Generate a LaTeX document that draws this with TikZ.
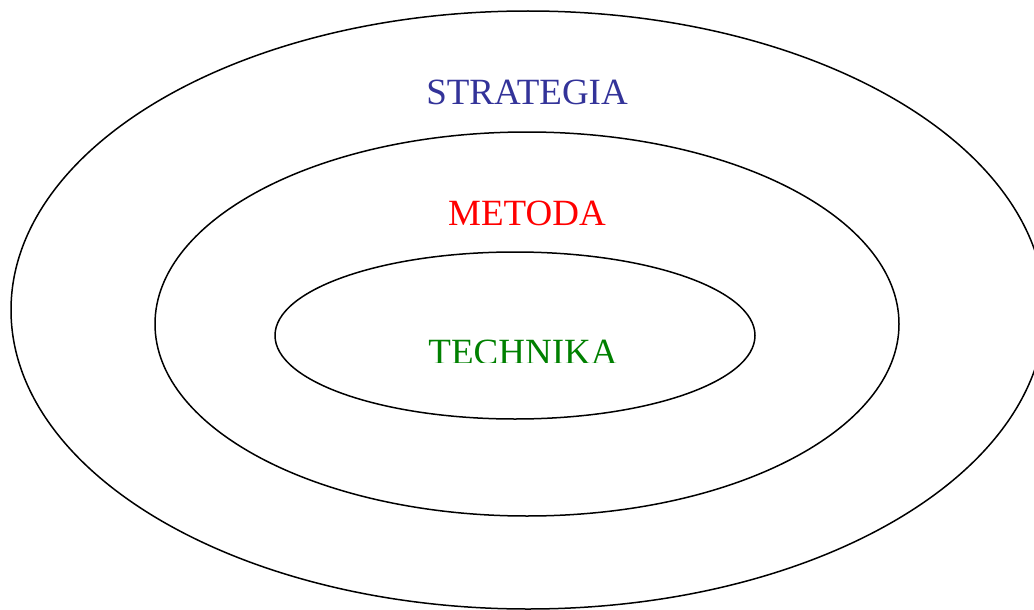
\documentclass[tikz,border=0pt]{standalone}
\usepackage{fontspec}
\setmainfont{Liberation Serif}
\usetikzlibrary{shapes.geometric}
\definecolor{stratblue}{RGB}{51,51,153}
\definecolor{metred}{RGB}{255,0,0}
\definecolor{techgreen}{RGB}{0,128,0}
\tikzset{
  ring/.style={draw=black, line width=1.5pt, ellipse, inner sep=0pt, fill=none},
  label/.style={anchor=base, inner sep=0pt, font=\fontsize{37}{44}\selectfont}
}
\begin{document}
\begin{tikzpicture}[x=1pt,y=-1pt]
\useasboundingbox (0,0) rectangle (1034,610);
\clip (0,0) rectangle (1034,610);
\node[ring, minimum width=1034pt, minimum height=598pt] (outer) at (528,310) {};
\node[ring, minimum width=744pt, minimum height=384pt] (middle) at (527,324) {};
\node[ring, minimum width=480pt, minimum height=167pt] (inner) at (515,335.5) {};
\node[label, text=stratblue] (strat) at (527,104) {STRATEGIA};
\node[label, text=metred] (metoda) at (527,225) {METODA};
\begin{scope}
\clip (380,320) rectangle (680,362);
\node[label, text=techgreen] (tech) at (523,364) {TECHNIKA};
\end{scope}
\end{tikzpicture}
\end{document}
